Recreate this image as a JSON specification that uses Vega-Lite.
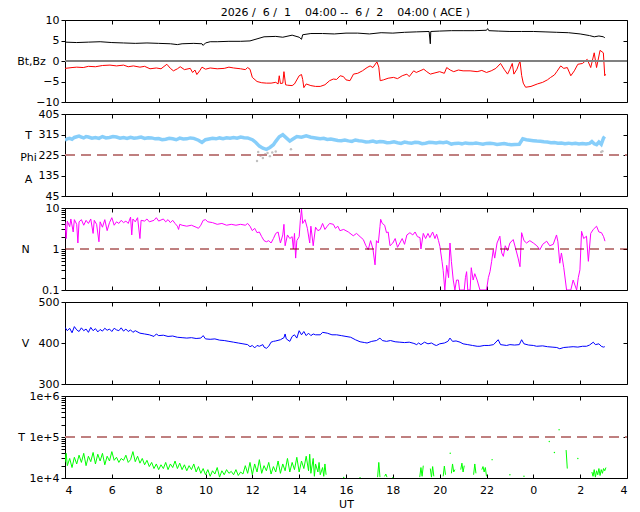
{
  "$schema": "https://vega.github.io/schema/vega-lite/v6.json",
  "padding": {"left": 16, "top": 6, "right": 5, "bottom": 2},
  "config": {
    "font": "DejaVu Sans",
    "view": {"stroke": "black", "strokeWidth": 1},
    "axis": {"grid": false, "domain": false, "tickColor": "black", "tickSize": 4, "labelFontSize": 11, "labelColor": "black", "labelPadding": 2, "titleFontSize": 11, "titleFontWeight": "normal", "titleColor": "black"}
  },
  "title": {"text": "2026 /\u00a0 6 /\u00a0 1 \u00a0 \u00a004:00 --\u00a0 6 /\u00a0 2 \u00a0 \u00a004:00 ( ACE )", "fontSize": 11, "fontWeight": "normal", "anchor": "middle", "offset": -4, "dx": 23},
  "bounds": "flush",
  "spacing": 12,
  "datasets": {
    "bt": [
      {"h":4.0,"v":4.6},{"h":4.5,"v":4.5},{"h":5.0,"v":4.6},{"h":5.5,"v":4.7},{"h":6.0,"v":4.5},{"h":6.5,"v":4.4},{"h":7.0,"v":4.3},{"h":7.5,"v":4.4},{"h":8.0,"v":4.3},{"h":8.5,"v":4.2},{"h":8.8,"v":4.0},{"h":9.0,"v":4.2},{"h":9.5,"v":4.3},{"h":9.85,"v":4.2},{"h":9.9,"v":3.8},{"h":10.0,"v":4.4},{"h":10.2,"v":4.7},{"h":10.5,"v":4.7},{"h":11.0,"v":4.8},{"h":11.5,"v":4.8},{"h":11.9,"v":4.9},{"h":12.2,"v":5.4},{"h":12.5,"v":5.9},{"h":13.0,"v":6.0},{"h":13.3,"v":5.8},{"h":13.7,"v":6.3},{"h":14.0,"v":5.8},{"h":14.1,"v":5.3},{"h":14.15,"v":6.4},{"h":14.5,"v":6.7},{"h":15.0,"v":6.7},{"h":15.5,"v":6.6},{"h":16.0,"v":6.8},{"h":16.5,"v":6.8},{"h":17.0,"v":6.6},{"h":17.5,"v":6.9},{"h":18.0,"v":6.8},{"h":18.5,"v":7.0},{"h":19.0,"v":7.1},{"h":19.55,"v":7.2},{"h":19.6,"v":4.2},{"h":19.62,"v":7.2},{"h":20.0,"v":7.3},{"h":20.5,"v":7.4},{"h":21.0,"v":7.4},{"h":21.5,"v":7.4},{"h":22.0,"v":7.5},{"h":22.05,"v":7.9},{"h":22.1,"v":7.4},{"h":22.5,"v":7.3},{"h":23.0,"v":7.2},{"h":23.5,"v":7.2},{"h":24.0,"v":7.2},{"h":24.5,"v":7.1},{"h":25.0,"v":7.0},{"h":25.5,"v":6.9},{"h":26.0,"v":6.6},{"h":26.4,"v":6.2},{"h":26.6,"v":5.9},{"h":26.8,"v":6.1},{"h":27.0,"v":5.9},{"h":27.05,"v":5.6}
    ],
    "bz": [
      {"h":4.0,"v":-1.8},{"h":4.3,"v":-1.6},{"h":4.5,"v":-1.5},{"h":4.78,"v":-1.6},{"h":5.0,"v":-1.3},{"h":5.3,"v":-1.4},{"h":5.6,"v":-1.1},{"h":5.92,"v":-1.0},{"h":6.2,"v":-1.2},{"h":6.5,"v":-1.0},{"h":6.7,"v":-1.4},{"h":6.92,"v":-1.2},{"h":7.2,"v":-1.5},{"h":7.4,"v":-1.3},{"h":7.63,"v":-1.9},{"h":7.9,"v":-1.7},{"h":8.1,"v":-1.9},{"h":8.35,"v":-0.8},{"h":8.5,"v":-1.8},{"h":8.63,"v":-2.4},{"h":8.8,"v":-1.9},{"h":8.92,"v":-1.4},{"h":9.1,"v":-2.1},{"h":9.35,"v":-1.8},{"h":9.45,"v":-2.8},{"h":9.55,"v":-2.2},{"h":9.63,"v":-3.3},{"h":9.75,"v":-2.4},{"h":9.85,"v":-1.5},{"h":10.0,"v":-2.0},{"h":10.2,"v":-1.7},{"h":10.5,"v":-1.9},{"h":10.8,"v":-1.8},{"h":11.0,"v":-1.5},{"h":11.2,"v":-1.7},{"h":11.5,"v":-1.9},{"h":11.7,"v":-2.1},{"h":11.8,"v":-1.6},{"h":11.9,"v":-2.0},{"h":12.0,"v":-4.0},{"h":12.2,"v":-5.0},{"h":12.4,"v":-5.3},{"h":12.6,"v":-5.4},{"h":12.8,"v":-5.4},{"h":13.0,"v":-5.2},{"h":13.1,"v":-5.6},{"h":13.15,"v":-3.6},{"h":13.2,"v":-5.5},{"h":13.3,"v":-5.4},{"h":13.35,"v":-2.6},{"h":13.42,"v":-5.8},{"h":13.5,"v":-5.9},{"h":13.7,"v":-6.0},{"h":13.8,"v":-5.6},{"h":14.0,"v":-3.6},{"h":14.1,"v":-3.3},{"h":14.15,"v":-4.5},{"h":14.2,"v":-6.5},{"h":14.3,"v":-5.6},{"h":14.5,"v":-6.0},{"h":14.7,"v":-6.2},{"h":14.9,"v":-6.2},{"h":15.1,"v":-5.8},{"h":15.3,"v":-4.8},{"h":15.46,"v":-4.4},{"h":15.6,"v":-4.5},{"h":15.75,"v":-3.6},{"h":15.89,"v":-3.8},{"h":16.0,"v":-4.6},{"h":16.17,"v":-4.8},{"h":16.32,"v":-3.2},{"h":16.5,"v":-3.0},{"h":16.7,"v":-2.4},{"h":16.9,"v":-1.6},{"h":17.03,"v":-1.2},{"h":17.15,"v":-1.6},{"h":17.32,"v":-0.2},{"h":17.4,"v":-1.5},{"h":17.46,"v":-4.8},{"h":17.6,"v":-4.6},{"h":17.8,"v":-4.2},{"h":18.03,"v":-4.0},{"h":18.2,"v":-4.3},{"h":18.4,"v":-3.6},{"h":18.6,"v":-3.2},{"h":18.7,"v":-3.8},{"h":18.89,"v":-2.4},{"h":19.0,"v":-2.8},{"h":19.32,"v":-2.0},{"h":19.45,"v":-2.6},{"h":19.6,"v":-3.2},{"h":19.8,"v":-2.9},{"h":20.0,"v":-2.6},{"h":20.2,"v":-3.0},{"h":20.3,"v":-1.6},{"h":20.45,"v":-2.2},{"h":20.6,"v":-2.6},{"h":20.8,"v":-2.2},{"h":21.0,"v":-2.4},{"h":21.3,"v":-2.4},{"h":21.6,"v":-2.6},{"h":21.8,"v":-2.3},{"h":22.0,"v":-2.8},{"h":22.2,"v":-2.4},{"h":22.4,"v":-1.8},{"h":22.6,"v":-0.6},{"h":22.75,"v":-2.0},{"h":22.9,"v":-3.2},{"h":23.0,"v":-2.0},{"h":23.1,"v":-0.6},{"h":23.17,"v":-3.2},{"h":23.3,"v":-2.0},{"h":23.43,"v":0.0},{"h":23.5,"v":-3.5},{"h":23.57,"v":-5.4},{"h":23.67,"v":-6.4},{"h":23.9,"v":-6.2},{"h":24.17,"v":-5.6},{"h":24.4,"v":-5.2},{"h":24.6,"v":-4.6},{"h":24.74,"v":-4.0},{"h":24.9,"v":-3.4},{"h":25.0,"v":-2.6},{"h":25.17,"v":-1.2},{"h":25.3,"v":-1.8},{"h":25.45,"v":-1.6},{"h":25.6,"v":-3.6},{"h":25.75,"v":-2.4},{"h":25.9,"v":-0.8},{"h":26.1,"v":-0.6},{"h":26.3,"v":0.4},{"h":26.45,"v":-1.6},{"h":26.6,"v":2.0},{"h":26.7,"v":-1.6},{"h":26.85,"v":2.6},{"h":26.99,"v":2.0},{"h":27.05,"v":-3.6},{"h":27.08,"v":-3.2}
    ],
    "phi": [
      {"h":4.0,"v":290},{"h":4.1,"v":296},{"h":4.2,"v":298},{"h":4.3,"v":294},{"h":4.4,"v":302},{"h":4.5,"v":305},{"h":4.6,"v":308},{"h":4.7,"v":304},{"h":4.8,"v":300},{"h":4.9,"v":306},{"h":5.0,"v":304},{"h":5.15,"v":299},{"h":5.3,"v":302},{"h":5.45,"v":298},{"h":5.6,"v":306},{"h":5.75,"v":300},{"h":5.9,"v":302},{"h":6.05,"v":306},{"h":6.2,"v":304},{"h":6.35,"v":299},{"h":6.5,"v":302},{"h":6.65,"v":298},{"h":6.8,"v":303},{"h":6.95,"v":299},{"h":7.1,"v":301},{"h":7.25,"v":304},{"h":7.4,"v":298},{"h":7.55,"v":301},{"h":7.7,"v":300},{"h":7.85,"v":296},{"h":8.0,"v":297},{"h":8.15,"v":292},{"h":8.3,"v":294},{"h":8.45,"v":298},{"h":8.6,"v":296},{"h":8.75,"v":292},{"h":8.9,"v":299},{"h":9.05,"v":295},{"h":9.2,"v":296},{"h":9.35,"v":300},{"h":9.5,"v":298},{"h":9.7,"v":290},{"h":9.85,"v":280},{"h":10.0,"v":292},{"h":10.15,"v":295},{"h":10.3,"v":298},{"h":10.45,"v":296},{"h":10.6,"v":300},{"h":10.75,"v":297},{"h":10.9,"v":301},{"h":11.05,"v":299},{"h":11.2,"v":302},{"h":11.35,"v":299},{"h":11.5,"v":304},{"h":11.65,"v":301},{"h":11.8,"v":300},{"h":12.0,"v":292},{"h":12.15,"v":280},{"h":12.3,"v":264},{"h":12.45,"v":255},{"h":12.6,"v":250},{"h":12.75,"v":258},{"h":12.9,"v":270},{"h":13.0,"v":285},{"h":13.15,"v":305},{"h":13.3,"v":314},{"h":13.45,"v":300},{"h":13.6,"v":286},{"h":13.75,"v":296},{"h":13.9,"v":306},{"h":14.1,"v":303},{"h":14.3,"v":309},{"h":14.5,"v":303},{"h":14.7,"v":300},{"h":14.9,"v":296},{"h":15.05,"v":298},{"h":15.2,"v":293},{"h":15.35,"v":295},{"h":15.5,"v":292},{"h":15.65,"v":289},{"h":15.8,"v":288},{"h":15.95,"v":291},{"h":16.1,"v":287},{"h":16.25,"v":285},{"h":16.4,"v":291},{"h":16.55,"v":288},{"h":16.7,"v":286},{"h":16.85,"v":282},{"h":17.0,"v":283},{"h":17.15,"v":286},{"h":17.3,"v":281},{"h":17.45,"v":284},{"h":17.6,"v":283},{"h":17.75,"v":279},{"h":17.9,"v":280},{"h":18.05,"v":283},{"h":18.2,"v":279},{"h":18.35,"v":276},{"h":18.5,"v":282},{"h":18.65,"v":279},{"h":18.8,"v":277},{"h":18.95,"v":281},{"h":19.1,"v":280},{"h":19.25,"v":275},{"h":19.4,"v":277},{"h":19.55,"v":281},{"h":19.7,"v":280},{"h":19.85,"v":278},{"h":20.0,"v":281},{"h":20.15,"v":279},{"h":20.3,"v":282},{"h":20.5,"v":273},{"h":20.65,"v":276},{"h":20.8,"v":277},{"h":20.95,"v":274},{"h":21.1,"v":278},{"h":21.25,"v":276},{"h":21.4,"v":275},{"h":21.55,"v":278},{"h":21.7,"v":275},{"h":21.85,"v":272},{"h":22.0,"v":276},{"h":22.15,"v":277},{"h":22.3,"v":275},{"h":22.45,"v":271},{"h":22.6,"v":273},{"h":22.75,"v":275},{"h":22.9,"v":272},{"h":23.05,"v":270},{"h":23.2,"v":271},{"h":23.4,"v":272},{"h":23.55,"v":296},{"h":23.7,"v":292},{"h":23.85,"v":290},{"h":24.0,"v":288},{"h":24.15,"v":286},{"h":24.3,"v":285},{"h":24.45,"v":283},{"h":24.6,"v":282},{"h":24.75,"v":279},{"h":24.9,"v":280},{"h":25.05,"v":277},{"h":25.2,"v":278},{"h":25.35,"v":275},{"h":25.5,"v":277},{"h":25.65,"v":274},{"h":25.8,"v":276},{"h":25.95,"v":273},{"h":26.1,"v":275},{"h":26.25,"v":273},{"h":26.4,"v":276},{"h":26.5,"v":284},{"h":26.6,"v":274},{"h":26.7,"v":270},{"h":26.8,"v":282},{"h":26.9,"v":272},{"h":27.0,"v":300},{"h":27.05,"v":306}
    ],
    "phig": [
      {"h":12.2,"v":199},{"h":12.25,"v":238},{"h":12.35,"v":222},{"h":12.45,"v":212},{"h":12.55,"v":228},{"h":12.65,"v":234},{"h":12.75,"v":220},{"h":12.85,"v":236},{"h":13.0,"v":240},{"h":13.65,"v":250},{"h":26.9,"v":238},{"h":26.95,"v":242}
    ],
    "n": [
      {"h":4.0,"v":4.5},{"h":4.05,"v":1.8},{"h":4.1,"v":4.8},{"h":4.2,"v":3.5},{"h":4.25,"v":5.4},{"h":4.35,"v":2.6},{"h":4.4,"v":5.2},{"h":4.5,"v":4.0},{"h":4.55,"v":1.4},{"h":4.6,"v":4.6},{"h":4.7,"v":5.2},{"h":4.8,"v":3.8},{"h":4.9,"v":5.0},{"h":5.0,"v":4.2},{"h":5.1,"v":5.4},{"h":5.2,"v":2.4},{"h":5.25,"v":5.0},{"h":5.35,"v":4.0},{"h":5.45,"v":1.5},{"h":5.5,"v":4.6},{"h":5.6,"v":3.4},{"h":5.7,"v":5.2},{"h":5.8,"v":2.8},{"h":5.9,"v":4.4},{"h":6.0,"v":5.8},{"h":6.1,"v":3.8},{"h":6.2,"v":4.6},{"h":6.3,"v":4.2},{"h":6.4,"v":5.0},{"h":6.5,"v":4.4},{"h":6.6,"v":4.8},{"h":6.7,"v":4.2},{"h":6.8,"v":6.0},{"h":6.85,"v":2.2},{"h":6.9,"v":5.4},{"h":7.0,"v":4.6},{"h":7.1,"v":5.8},{"h":7.2,"v":1.8},{"h":7.25,"v":5.0},{"h":7.4,"v":4.8},{"h":7.5,"v":5.4},{"h":7.6,"v":4.6},{"h":7.8,"v":5.0},{"h":7.9,"v":5.8},{"h":8.0,"v":4.8},{"h":8.2,"v":5.4},{"h":8.3,"v":4.6},{"h":8.4,"v":5.2},{"h":8.5,"v":4.4},{"h":8.6,"v":5.0},{"h":8.7,"v":4.2},{"h":8.8,"v":3.6},{"h":8.85,"v":3.0},{"h":8.9,"v":4.0},{"h":9.0,"v":3.8},{"h":9.2,"v":3.6},{"h":9.4,"v":3.8},{"h":9.6,"v":3.4},{"h":9.7,"v":3.2},{"h":9.8,"v":3.8},{"h":9.9,"v":5.0},{"h":10.0,"v":5.2},{"h":10.1,"v":4.6},{"h":10.3,"v":4.4},{"h":10.5,"v":4.0},{"h":10.7,"v":4.2},{"h":10.9,"v":3.8},{"h":11.1,"v":4.0},{"h":11.3,"v":3.8},{"h":11.5,"v":4.0},{"h":11.7,"v":3.8},{"h":11.8,"v":4.2},{"h":11.9,"v":3.6},{"h":12.0,"v":2.8},{"h":12.1,"v":3.2},{"h":12.2,"v":2.5},{"h":12.3,"v":2.6},{"h":12.4,"v":2.0},{"h":12.5,"v":1.6},{"h":12.6,"v":1.5},{"h":12.7,"v":1.6},{"h":12.8,"v":1.4},{"h":12.9,"v":1.8},{"h":13.0,"v":2.4},{"h":13.1,"v":2.6},{"h":13.2,"v":1.4},{"h":13.3,"v":2.2},{"h":13.35,"v":4.0},{"h":13.4,"v":1.2},{"h":13.5,"v":2.2},{"h":13.6,"v":1.8},{"h":13.7,"v":2.0},{"h":13.75,"v":1.0},{"h":13.8,"v":2.4},{"h":13.85,"v":0.6},{"h":13.9,"v":1.6},{"h":14.0,"v":2.0},{"h":14.05,"v":5.0},{"h":14.1,"v":9.4},{"h":14.15,"v":4.2},{"h":14.25,"v":5.2},{"h":14.35,"v":3.2},{"h":14.45,"v":1.4},{"h":14.5,"v":3.6},{"h":14.6,"v":1.2},{"h":14.7,"v":3.4},{"h":14.8,"v":2.8},{"h":14.9,"v":3.0},
      {"h":15.0,"v":4.2},{"h":15.1,"v":3.0},{"h":15.2,"v":3.6},{"h":15.3,"v":4.2},{"h":15.46,"v":4.0},{"h":15.55,"v":3.2},{"h":15.65,"v":3.6},{"h":15.74,"v":2.8},{"h":15.9,"v":3.0},{"h":16.1,"v":2.6},{"h":16.31,"v":2.1},{"h":16.45,"v":2.4},{"h":16.6,"v":2.0},{"h":16.74,"v":1.7},{"h":16.85,"v":1.2},{"h":16.95,"v":0.96},{"h":17.05,"v":1.6},{"h":17.15,"v":1.0},{"h":17.24,"v":0.41},{"h":17.3,"v":1.6},{"h":17.38,"v":1.4},{"h":17.45,"v":3.5},{"h":17.48,"v":5.3},{"h":17.55,"v":4.2},{"h":17.65,"v":3.8},{"h":17.73,"v":2.5},{"h":17.8,"v":2.6},{"h":17.88,"v":1.2},{"h":18.0,"v":1.4},{"h":18.1,"v":1.8},{"h":18.2,"v":1.1},{"h":18.3,"v":1.4},{"h":18.4,"v":1.8},{"h":18.5,"v":1.3},{"h":18.6,"v":2.2},{"h":18.73,"v":2.5},{"h":18.85,"v":2.2},{"h":18.95,"v":2.6},{"h":19.05,"v":2.0},{"h":19.16,"v":1.9},{"h":19.2,"v":1.0},{"h":19.3,"v":2.4},{"h":19.4,"v":1.8},{"h":19.5,"v":2.4},{"h":19.58,"v":1.9},{"h":19.7,"v":2.6},{"h":19.8,"v":1.8},{"h":19.87,"v":2.3},{"h":19.95,"v":1.6},{"h":20.01,"v":1.16},{"h":20.1,"v":0.5},{"h":20.15,"v":0.3},{"h":20.22,"v":0.1},{"h":20.3,"v":0.4},{"h":20.38,"v":0.2},{"h":20.44,"v":1.4},{"h":20.5,"v":0.5},{"h":20.58,"v":0.175},{"h":20.65,"v":0.1},{"h":20.72,"v":0.175},{"h":20.8,"v":0.175},{"h":20.85,"v":0.1},{"h":21.05,"v":0.1},{"h":21.1,"v":0.2},{"h":21.15,"v":0.28},{"h":21.2,"v":0.1},{"h":21.3,"v":0.1},{"h":21.35,"v":0.35},{"h":21.43,"v":0.175},{"h":21.5,"v":0.25},{"h":21.6,"v":0.175},{"h":21.72,"v":0.1},{"h":21.85,"v":0.1},{"h":22.0,"v":0.1},{"h":22.08,"v":0.2},{"h":22.15,"v":0.28},{"h":22.22,"v":0.5},{"h":22.29,"v":0.96},{"h":22.35,"v":0.6},{"h":22.45,"v":1.4},{"h":22.57,"v":2.05},{"h":22.65,"v":0.8},{"h":22.72,"v":0.66},{"h":22.8,"v":1.2},{"h":22.9,"v":0.9},{"h":23.0,"v":1.4},{"h":23.14,"v":1.7},{"h":23.25,"v":1.0},{"h":23.35,"v":0.6},{"h":23.43,"v":0.37},{"h":23.5,"v":2.5},{"h":23.6,"v":1.6},{"h":23.71,"v":1.4},{"h":23.85,"v":1.6},{"h":24.0,"v":1.4},{"h":24.15,"v":1.2},{"h":24.28,"v":0.96},{"h":24.4,"v":1.3},{"h":24.57,"v":1.55},{"h":24.7,"v":1.2},{"h":24.85,"v":1.3},{"h":24.99,"v":2.2},{"h":25.05,"v":1.5},{"h":25.13,"v":0.45},{"h":25.2,"v":0.8},{"h":25.3,"v":0.35},{"h":25.42,"v":0.1},{"h":25.6,"v":0.1},{"h":25.7,"v":0.175},{"h":25.85,"v":0.1},{"h":25.92,"v":0.2},{"h":25.99,"v":0.31},{"h":26.06,"v":2.7},{"h":26.15,"v":1.8},{"h":26.27,"v":2.05},{"h":26.35,"v":0.5},{"h":26.45,"v":2.4},{"h":26.56,"v":3.0},{"h":26.7,"v":3.6},{"h":26.8,"v":2.6},{"h":26.91,"v":2.5},{"h":27.0,"v":2.0},{"h":27.06,"v":1.55}
    ],
    "vel": [
      {"h":4.0,"v":438},{"h":4.1,"v":430},{"h":4.2,"v":436},{"h":4.3,"v":425},{"h":4.4,"v":440},{"h":4.5,"v":432},{"h":4.6,"v":428},{"h":4.7,"v":437},{"h":4.8,"v":430},{"h":4.9,"v":434},{"h":5.0,"v":426},{"h":5.1,"v":438},{"h":5.2,"v":430},{"h":5.3,"v":435},{"h":5.4,"v":427},{"h":5.5,"v":433},{"h":5.6,"v":429},{"h":5.7,"v":436},{"h":5.8,"v":431},{"h":5.9,"v":434},{"h":6.0,"v":428},{"h":6.1,"v":436},{"h":6.2,"v":432},{"h":6.3,"v":430},{"h":6.4,"v":437},{"h":6.5,"v":429},{"h":6.6,"v":434},{"h":6.7,"v":428},{"h":6.8,"v":432},{"h":6.9,"v":426},{"h":7.0,"v":430},{"h":7.2,"v":424},{"h":7.4,"v":422},{"h":7.6,"v":420},{"h":7.8,"v":416},{"h":7.9,"v":422},{"h":8.0,"v":418},{"h":8.2,"v":419},{"h":8.4,"v":416},{"h":8.6,"v":417},{"h":8.8,"v":414},{"h":9.0,"v":413},{"h":9.2,"v":412},{"h":9.4,"v":413},{"h":9.6,"v":411},{"h":9.8,"v":412},{"h":9.9,"v":418},{"h":10.0,"v":410},{"h":10.2,"v":409},{"h":10.4,"v":410},{"h":10.6,"v":407},{"h":10.8,"v":406},{"h":11.0,"v":404},{"h":11.2,"v":402},{"h":11.4,"v":400},{"h":11.6,"v":398},{"h":11.8,"v":396},{"h":11.9,"v":391},{"h":12.0,"v":394},{"h":12.1,"v":388},{"h":12.2,"v":394},{"h":12.3,"v":392},{"h":12.45,"v":396},{"h":12.5,"v":390},{"h":12.6,"v":387},{"h":12.7,"v":392},{"h":12.8,"v":402},{"h":12.9,"v":404},{"h":13.0,"v":405},{"h":13.2,"v":408},{"h":13.35,"v":413},{"h":13.4,"v":422},{"h":13.45,"v":410},{"h":13.6,"v":404},{"h":13.7,"v":416},{"h":13.8,"v":420},{"h":13.9,"v":412},{"h":14.0,"v":430},{"h":14.1,"v":420},{"h":14.2,"v":428},{"h":14.3,"v":418},{"h":14.4,"v":424},{"h":14.5,"v":418},{"h":14.6,"v":422},{"h":14.7,"v":420},{"h":14.9,"v":420},
      {"h":15.0,"v":426},{"h":15.2,"v":424},{"h":15.4,"v":420},{"h":15.6,"v":420},{"h":15.8,"v":418},{"h":16.0,"v":416},{"h":16.2,"v":414},{"h":16.4,"v":408},{"h":16.6,"v":403},{"h":16.8,"v":401},{"h":16.9,"v":400},{"h":17.1,"v":404},{"h":17.3,"v":406},{"h":17.45,"v":412},{"h":17.55,"v":406},{"h":17.73,"v":404},{"h":17.9,"v":406},{"h":18.1,"v":403},{"h":18.3,"v":402},{"h":18.5,"v":401},{"h":18.7,"v":402},{"h":18.9,"v":399},{"h":19.02,"v":396},{"h":19.1,"v":400},{"h":19.2,"v":396},{"h":19.35,"v":402},{"h":19.5,"v":398},{"h":19.65,"v":400},{"h":19.8,"v":395},{"h":19.87,"v":394},{"h":20.0,"v":398},{"h":20.2,"v":400},{"h":20.35,"v":404},{"h":20.44,"v":412},{"h":20.55,"v":404},{"h":20.7,"v":405},{"h":20.87,"v":402},{"h":21.0,"v":398},{"h":21.2,"v":396},{"h":21.4,"v":394},{"h":21.6,"v":392},{"h":21.72,"v":392},{"h":21.9,"v":394},{"h":22.1,"v":394},{"h":22.3,"v":396},{"h":22.5,"v":408},{"h":22.6,"v":396},{"h":22.86,"v":394},{"h":23.0,"v":396},{"h":23.2,"v":395},{"h":23.4,"v":396},{"h":23.5,"v":408},{"h":23.6,"v":398},{"h":23.8,"v":395},{"h":24.0,"v":394},{"h":24.14,"v":392},{"h":24.4,"v":393},{"h":24.6,"v":391},{"h":24.8,"v":390},{"h":25.0,"v":389},{"h":25.13,"v":386},{"h":25.3,"v":389},{"h":25.5,"v":390},{"h":25.7,"v":391},{"h":25.9,"v":390},{"h":26.1,"v":392},{"h":26.27,"v":392},{"h":26.4,"v":395},{"h":26.56,"v":402},{"h":26.65,"v":396},{"h":26.8,"v":398},{"h":26.9,"v":392},{"h":26.99,"v":390},{"h":27.05,"v":391}
    ],
    "temp": [
      {"h":4.0,"v":24000},{"h":4.05,"v":40000},{"h":4.1,"v":20000},{"h":4.2,"v":30000},{"h":4.3,"v":18000},{"h":4.4,"v":32000},{"h":4.5,"v":22000},{"h":4.6,"v":36000},{"h":4.7,"v":24000},{"h":4.8,"v":40000},{"h":4.9,"v":20000},{"h":5.0,"v":34000},{"h":5.1,"v":25000},{"h":5.2,"v":42000},{"h":5.3,"v":22000},{"h":5.4,"v":38000},{"h":5.5,"v":26000},{"h":5.6,"v":40000},{"h":5.7,"v":21000},{"h":5.8,"v":34000},{"h":5.9,"v":26000},{"h":6.0,"v":44000},{"h":6.1,"v":27000},{"h":6.2,"v":32000},{"h":6.3,"v":24000},{"h":6.4,"v":30000},{"h":6.5,"v":27000},{"h":6.6,"v":36000},{"h":6.7,"v":24000},{"h":6.8,"v":28000},{"h":6.9,"v":44000},{"h":7.0,"v":25000},{"h":7.1,"v":34000},{"h":7.2,"v":23000},{"h":7.3,"v":30000},{"h":7.4,"v":21000},{"h":7.5,"v":27000},{"h":7.6,"v":19000},{"h":7.7,"v":24000},{"h":7.8,"v":17000},{"h":7.9,"v":22000},{"h":8.0,"v":16000},{"h":8.1,"v":21000},{"h":8.2,"v":17000},{"h":8.3,"v":24000},{"h":8.4,"v":16000},{"h":8.5,"v":22000},{"h":8.6,"v":18000},{"h":8.7,"v":26000},{"h":8.8,"v":17000},{"h":8.9,"v":23000},{"h":9.0,"v":16000},{"h":9.1,"v":21000},{"h":9.2,"v":15000},{"h":9.3,"v":20000},{"h":9.4,"v":16000},{"h":9.5,"v":22000},{"h":9.6,"v":14000},{"h":9.7,"v":19000},{"h":9.8,"v":13000},{"h":9.9,"v":17000},{"h":10.0,"v":12000},{"h":10.1,"v":16000},{"h":10.2,"v":11000},{"h":10.3,"v":15000},{"h":10.4,"v":12500},{"h":10.5,"v":18000},{"h":10.6,"v":10500},{"h":10.7,"v":15000},{"h":10.8,"v":12000},{"h":10.9,"v":16000},{"h":11.0,"v":13000},{"h":11.1,"v":14500},{"h":11.2,"v":12000},{"h":11.3,"v":16000},{"h":11.4,"v":11500},{"h":11.5,"v":14000},{"h":11.6,"v":12500},{"h":11.7,"v":20000},{"h":11.8,"v":13000},{"h":11.9,"v":24000},{"h":12.0,"v":12000},{"h":12.1,"v":22000},{"h":12.2,"v":14000},{"h":12.3,"v":28000},{"h":12.4,"v":13000},{"h":12.5,"v":20000},{"h":12.6,"v":15000},{"h":12.7,"v":24000},{"h":12.8,"v":12500},{"h":12.9,"v":19000},{"h":13.0,"v":14000},{"h":13.1,"v":26000},{"h":13.2,"v":13000},{"h":13.3,"v":22000},{"h":13.4,"v":15000},{"h":13.5,"v":30000},{"h":13.6,"v":14000},{"h":13.7,"v":24000},{"h":13.8,"v":16000},{"h":13.9,"v":32000},{"h":14.0,"v":14000},{"h":14.1,"v":26000},{"h":14.2,"v":17000},{"h":14.3,"v":34000},{"h":14.4,"v":15000},{"h":14.45,"v":38000},{"h":14.5,"v":13000},{"h":14.6,"v":30000},{"h":14.65,"v":11000},{"h":14.7,"v":22000},{"h":14.8,"v":14000},{"h":14.85,"v":24000},{"h":14.9,"v":12000},{"h":15.0,"v":18000},{"h":15.05,"v":11000},{"h":15.1,"v":22000},{"h":15.15,"v":12000},{"h":15.2,"v":null},
      {"h":17.35,"v":10500},{"h":17.4,"v":24000},{"h":17.45,"v":10500},{"h":17.5,"v":null},{"h":17.65,"v":11000},{"h":17.7,"v":12500},{"h":17.75,"v":10500},{"h":17.8,"v":null},
      {"h":19.15,"v":10500},{"h":19.2,"v":18000},{"h":19.25,"v":11000},{"h":19.3,"v":20000},{"h":19.35,"v":null},{"h":19.6,"v":17000},{"h":19.65,"v":10500},{"h":19.7,"v":19000},{"h":19.75,"v":11000},{"h":19.8,"v":null},{"h":20.15,"v":11000},{"h":20.2,"v":19500},{"h":20.25,"v":12000},{"h":20.3,"v":null},{"h":20.5,"v":13000},{"h":20.55,"v":22000},{"h":20.6,"v":14000},{"h":20.65,"v":16000},{"h":20.7,"v":null},{"h":20.9,"v":16000},{"h":20.95,"v":23000},{"h":21.0,"v":14000},{"h":21.05,"v":20000},{"h":21.1,"v":null},{"h":21.45,"v":12000},{"h":21.5,"v":22000},{"h":21.55,"v":13000},{"h":21.6,"v":null},{"h":21.8,"v":16000},{"h":21.85,"v":19000},{"h":21.9,"v":14000},{"h":21.95,"v":18000},{"h":22.0,"v":11000},{"h":22.05,"v":null},
      {"h":25.4,"v":48000},{"h":25.45,"v":17000},{"h":25.5,"v":null},
      {"h":26.5,"v":14000},{"h":26.55,"v":11000},{"h":26.6,"v":16000},{"h":26.65,"v":10500},{"h":26.7,"v":15000},{"h":26.75,"v":12000},{"h":26.8,"v":17000},{"h":26.85,"v":11500},{"h":26.9,"v":16000},{"h":26.95,"v":13000},{"h":27.0,"v":17000},{"h":27.05,"v":15000},{"h":27.1,"v":18000}
    ],
    "tdots": [
      {"h":15.9,"v":10300},{"h":16.6,"v":10200},{"h":18.0,"v":10200},{"h":20.45,"v":40000},{"h":22.24,"v":28000},{"h":23.0,"v":12000},{"h":24.68,"v":78000},{"h":24.9,"v":42000},{"h":25.1,"v":150000},{"h":25.9,"v":30000},{"h":23.6,"v":11000}
    ]
  },
  "vconcat": [
    {
      "width": 562, "height": 82,
      "resolve": {"axis": {"x": "independent", "y": "independent"}},
      "layer": [
        {
          "data": {"name": "bt"},
          "mark": {"type": "line", "color": "black", "strokeWidth": 1, "clip": true},
          "encoding": {
            "x": {"field": "h", "type": "quantitative", "scale": {"domain": [4, 28], "nice": false}, "axis": {"orient": "bottom", "values": [4,6,8,10,12,14,16,18,20,22,24,26,28], "tickSize": -4, "labels": false, "title": null}},
            "y": {"field": "v", "type": "quantitative", "scale": {"domain": [-10, 10], "nice": false}, "axis": {"values": [-10,-5,0,5,10], "title": "Bt,Bz", "titleAngle": 0, "titleX": -34, "titleY": 41, "titleAlign": "center", "titleBaseline": "middle"}}
          }
        },
        {
          "data": {"name": "bz"},
          "mark": {"type": "line", "color": "#ff0000", "strokeWidth": 1, "clip": true},
          "encoding": {
            "x": {"field": "h", "type": "quantitative", "axis": null},
            "y": {"field": "v", "type": "quantitative", "axis": null}
          }
        },
        {
          "data": {"values": [{"ref": 0}]},
          "mark": {"type": "rule", "color": "#808080", "strokeWidth": 2},
          "encoding": {
            "x": {"datum": 4, "axis": {"orient": "top", "values": [4,6,8,10,12,14,16,18,20,22,24,26,28], "tickSize": -4, "labels": false, "title": null}},
            "x2": {"datum": 28},
            "y": {"field": "ref", "type": "quantitative", "axis": {"orient": "right", "values": [-5,0,5], "tickSize": -4, "labels": false, "title": null}}
          }
        }
      ]
    },
    {
      "width": 562, "height": 82,
      "resolve": {"axis": {"x": "independent", "y": "independent"}},
      "layer": [
        {
          "data": {"name": "phi"},
          "mark": {"type": "line", "color": "#87cefa", "strokeWidth": 3.5, "clip": true},
          "encoding": {
            "x": {"field": "h", "type": "quantitative", "scale": {"domain": [4, 28], "nice": false}, "axis": {"orient": "bottom", "values": [4,6,8,10,12,14,16,18,20,22,24,26,28], "tickSize": -4, "labels": false, "title": null}},
            "y": {"field": "v", "type": "quantitative", "scale": {"domain": [45, 405], "nice": false, "zero": false}, "axis": {"values": [45,135,225,315,405], "title": ["T", "Phi", "A"], "titleAngle": 0, "titleX": -37, "titleY": 21, "titleAlign": "center", "titleBaseline": "middle", "titleLineHeight": 22}}
          }
        },
        {
          "data": {"name": "phig"},
          "mark": {"type": "circle", "color": "#c0c0c0", "size": 6, "opacity": 1, "clip": true},
          "encoding": {
            "x": {"field": "h", "type": "quantitative", "axis": null},
            "y": {"field": "v", "type": "quantitative", "axis": null}
          }
        },
        {
          "data": {"values": [{"ref": 225}]},
          "mark": {"type": "rule", "color": "#bf7f7f", "strokeWidth": 2, "strokeDash": [10, 6]},
          "encoding": {
            "x": {"datum": 4, "axis": {"orient": "top", "values": [4,6,8,10,12,14,16,18,20,22,24,26,28], "tickSize": -4, "labels": false, "title": null}},
            "x2": {"datum": 28},
            "y": {"field": "ref", "type": "quantitative", "axis": {"orient": "right", "values": [135,225,315], "tickSize": -4, "labels": false, "title": null}}
          }
        }
      ]
    },
    {
      "width": 562, "height": 82,
      "resolve": {"axis": {"x": "independent", "y": "independent"}},
      "layer": [
        {
          "data": {"name": "n"},
          "mark": {"type": "line", "color": "#ff00ff", "strokeWidth": 1, "clip": true},
          "encoding": {
            "x": {"field": "h", "type": "quantitative", "scale": {"domain": [4, 28], "nice": false}, "axis": {"orient": "bottom", "values": [4,6,8,10,12,14,16,18,20,22,24,26,28], "tickSize": -4, "labels": false, "title": null}},
            "y": {"field": "v", "type": "quantitative", "scale": {"type": "log", "domain": [0.1, 10], "nice": false}, "axis": {"values": [0.1,0.2,0.3,0.4,0.5,0.6,0.7,0.8,0.9,1,2,3,4,5,6,7,8,9,10], "labelExpr": "datum.value == 0.1 ? '0.1' : datum.value == 1 ? '1' : datum.value == 10 ? '10' : ''", "labelOverlap": false, "title": "N", "titleAngle": 0, "titleX": -40, "titleY": 41, "titleAlign": "center", "titleBaseline": "middle"}}
          }
        },
        {
          "data": {"values": [{"ref": 1}]},
          "mark": {"type": "rule", "color": "#800000", "strokeWidth": 1, "strokeDash": [9, 6]},
          "encoding": {
            "x": {"datum": 4, "axis": {"orient": "top", "values": [4,6,8,10,12,14,16,18,20,22,24,26,28], "tickSize": -4, "labels": false, "title": null}},
            "x2": {"datum": 28},
            "y": {"field": "ref", "type": "quantitative", "axis": {"orient": "right", "values": [1], "tickSize": -4, "labels": false, "title": null}}
          }
        }
      ]
    },
    {
      "width": 562, "height": 82,
      "resolve": {"axis": {"x": "independent", "y": "independent"}},
      "layer": [
        {
          "data": {"name": "vel"},
          "mark": {"type": "line", "color": "#0000ff", "strokeWidth": 1, "clip": true},
          "encoding": {
            "x": {"field": "h", "type": "quantitative", "scale": {"domain": [4, 28], "nice": false}, "axis": {"orient": "bottom", "values": [4,6,8,10,12,14,16,18,20,22,24,26,28], "tickSize": -4, "labels": false, "title": null}},
            "y": {"field": "v", "type": "quantitative", "scale": {"domain": [300, 500], "nice": false, "zero": false}, "axis": {"values": [300,400,500], "title": "V", "titleAngle": 0, "titleX": -40, "titleY": 41, "titleAlign": "center", "titleBaseline": "middle"}}
          }
        },
        {
          "data": {"values": [{"ref": 400}]},
          "mark": {"type": "rule", "opacity": 0},
          "encoding": {
            "x": {"datum": 4, "axis": {"orient": "top", "values": [4,6,8,10,12,14,16,18,20,22,24,26,28], "tickSize": -4, "labels": false, "title": null}},
            "x2": {"datum": 28},
            "y": {"field": "ref", "type": "quantitative", "axis": {"orient": "right", "values": [400], "tickSize": -4, "labels": false, "title": null}}
          }
        }
      ]
    },
    {
      "width": 562, "height": 82,
      "resolve": {"axis": {"x": "independent", "y": "independent"}},
      "layer": [
        {
          "data": {"name": "temp"},
          "mark": {"type": "line", "color": "#00ff00", "strokeWidth": 1, "clip": true},
          "encoding": {
            "x": {"field": "h", "type": "quantitative", "scale": {"domain": [4, 28], "nice": false}, "axis": {"orient": "bottom", "values": [4,6,8,10,12,14,16,18,20,22,24,26,28], "tickSize": -4, "labelPadding": 10, "labelExpr": "'' + (datum.value % 24)", "title": "UT", "titlePadding": 3}},
            "y": {"field": "v", "type": "quantitative", "scale": {"type": "log", "domain": [10000, 1000000], "nice": false}, "axis": {"values": [10000,20000,30000,40000,50000,60000,70000,80000,90000,100000,200000,300000,400000,500000,600000,700000,800000,900000,1000000], "labelExpr": "datum.value == 10000 ? '1e+4' : datum.value == 100000 ? '1e+5' : datum.value == 1000000 ? '1e+6' : ''", "labelOverlap": false, "title": "T", "titleAngle": 0, "titleX": -44, "titleY": 41, "titleAlign": "center", "titleBaseline": "middle"}}
          }
        },
        {
          "data": {"name": "tdots"},
          "mark": {"type": "circle", "color": "#00ff00", "size": 2, "opacity": 1, "clip": true},
          "encoding": {
            "x": {"field": "h", "type": "quantitative", "axis": null},
            "y": {"field": "v", "type": "quantitative", "axis": null}
          }
        },
        {
          "data": {"values": [{"ref": 100000}]},
          "mark": {"type": "rule", "color": "#bf7f7f", "strokeWidth": 2, "strokeDash": [10, 6]},
          "encoding": {
            "x": {"datum": 4, "axis": {"orient": "top", "values": [4,6,8,10,12,14,16,18,20,22,24,26,28], "tickSize": -4, "labels": false, "title": null}},
            "x2": {"datum": 28},
            "y": {"field": "ref", "type": "quantitative", "axis": {"orient": "right", "values": [100000], "tickSize": -4, "labels": false, "title": null}}
          }
        }
      ]
    }
  ]
}
